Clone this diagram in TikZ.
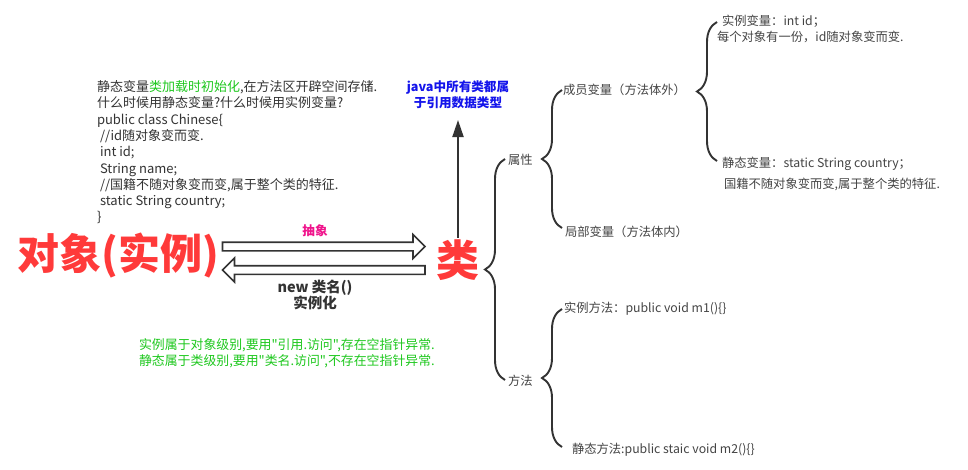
\documentclass[tikz,border=0pt]{standalone}
\usepackage{fontspec}
\setmainfont{Noto Sans CJK SC}[Ligatures=TeXOff]
\usetikzlibrary{decorations.pathreplacing,calc,arrows.meta}
\definecolor{codecol}{RGB}{51,51,51}
\definecolor{treecol}{RGB}{68,68,68}
\definecolor{linecol}{RGB}{51,51,51}
\definecolor{redcol}{RGB}{255,58,58}
\definecolor{greencol}{RGB}{30,200,30}
\definecolor{bluecol}{RGB}{20,20,235}
\definecolor{pinkcol}{RGB}{240,20,140}
\begin{document}
\begin{tikzpicture}[x=1pt,y=-1pt,
  every node/.style={inner sep=0pt,outer sep=0pt},
  codetxt/.style={anchor=north west,align=left,text=codecol,font=\fontsize{13}{16.3}\selectfont},
  treetxt/.style={anchor=west,text=treecol,font=\fontsize{12.3}{15}\selectfont},
  bigred/.style={text=redcol,font=\fontsize{42}{48}\selectfont\bfseries},
  javatxt/.style={align=center,text=bluecol,font=\fontsize{12.6}{16}\selectfont\bfseries},
  greentxt/.style={anchor=north west,align=left,text=greencol,font=\fontsize{12.9}{16.5}\selectfont},
  bracest/.style={decorate,decoration={brace,amplitude=20pt},line width=1.9pt,draw=linecol},
  hollow/.style={draw=linecol,line width=1.6pt,fill=white,line join=miter}]
\fill[white] (0,0) rectangle (968,469);
\useasboundingbox (0,0) rectangle (968,469);

% code block
\node[codetxt] (code) at (97,80.5) {静态变量\textcolor{greencol}{类加载时初始化},在方法区开辟空间存储.\\
什么时候用静态变量?什么时候用实例变量?\\
public class Chinese\{\\
\hspace*{3pt}//id随对象变而变.\\
\hspace*{3pt}int id;\\
\hspace*{3pt}String name;\\
\hspace*{3pt}//国籍不随对象变而变,属于整个类的特征.\\
\hspace*{3pt}static String country;\\
\}};

% main nodes
\node[bigred] (obj) at (118,256) {对象(实例)};
\node[bigred,font=\fontsize{43}{48}\selectfont\bfseries] (cls) at (458,260) {类};
\node[javatxt] (java) at (458,95) {java中所有类都属\\于引用数据类型};
\node[text=pinkcol,font=\fontsize{12.6}{15}\selectfont\bfseries] (abs) at (315,231) {抽象};
\node[align=center,text=codecol,font=\fontsize{14.5}{14}\selectfont\bfseries] (newl) at (315,295) {new 类名()\\实例化};
\node[greentxt] (note) at (139,338.5) {实例属于对象级别,要用"引用.访问",存在空指针异常.\\静态属于类级别,要用"类名.访问",不存在空指针异常.};

% hollow arrows
\coordinate (a1s) at (222.5,246.5);
\coordinate (a1e) at (425,246.5);
\coordinate (a2s) at (425,270);
\coordinate (a2e) at (222.5,270);
\draw[hollow] ($(a1s)+(0,-4.3)$) -- ($(a1e)+(-12,-4.3)$) -- ($(a1e)+(-12,-12)$) -- (a1e)
  -- ($(a1e)+(-12,12)$) -- ($(a1e)+(-12,4.3)$) -- ($(a1s)+(0,4.3)$) -- cycle;
\draw[hollow] ($(a2s)+(0,-4.3)$) -- ($(a2e)+(12,-4.3)$) -- ($(a2e)+(12,-12)$) -- (a2e)
  -- ($(a2e)+(12,12)$) -- ($(a2e)+(12,4.3)$) -- ($(a2s)+(0,4.3)$) -- cycle;

% vertical arrow
\coordinate (jtip) at (458,120);
\draw[linecol,line width=2pt,-{Triangle[length=17pt,width=11pt]}] ($(cls.north)+(0,-2)$) -- (jtip);

% tree
\node[treetxt] (sx) at (508,160) {属性};
\node[treetxt] (ff) at (508,381) {方法};
\node[treetxt] (cy) at (563,90) {成员变量（方法体外）};
\node[treetxt] (jb) at (565,232) {局部变量（方法体内）};
\node[treetxt] (slbl) at (722,21) {实例变量：int id；};
\node[treetxt] (slbl2) at (717,37) {每个对象有一份，id随对象变而变.};
\node[treetxt] (jtbl) at (722,164) {静态变量：static String country；};
\node[treetxt] (jtbl2) at (724,184) {国籍不随对象变而变,属于整个类的特征.};
\node[treetxt] (m1) at (564,309) {实例方法：public void m1()\{\}};
\node[treetxt] (m2) at (572,450) {静态方法:public staic void m2()\{\}};

% braces
\draw[bracest] ($(ff.west)+(-3,-1)$) -- ($(sx.west)+(-3,-1)$);
\draw[bracest] ($(cy.west |- jb.west)+(-1,-4)$) -- ($(cy.west)+(-1,0)$);
\draw[bracest] ($(slbl2.west |- jtbl.west)+(0,-3)$) -- ($(slbl2.west |- slbl.west)+(0,1)$);
\draw[bracest] ($(m1.west |- m2.west)+(-2,-3)$) -- ($(m1.west)+(-2,0)$);
\end{tikzpicture}
\end{document}
